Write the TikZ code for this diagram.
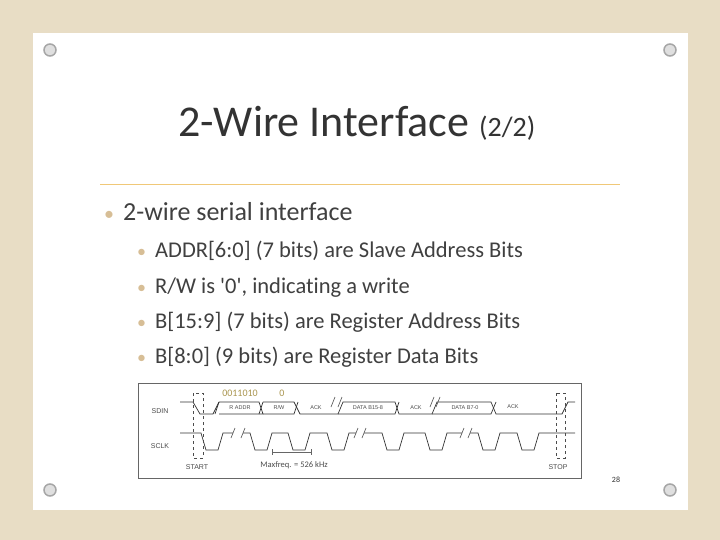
\documentclass[tikz,border=0pt]{standalone}
\usepackage{fontspec}
\setmainfont{Carlito}[Ligatures=NoCommon]
\setsansfont{Liberation Sans}
\definecolor{bgbeige}{RGB}{232,221,197}
\definecolor{rulec}{RGB}{240,200,120}
\definecolor{bitc}{RGB}{170,150,80}
\definecolor{bulc}{RGB}{215,190,150}
\begin{document}
\begin{tikzpicture}[x=1pt,y=-1pt,
  pin/.style={circle,draw=gray!70,fill=gray!25,line width=1.5pt,minimum size=12pt,inner sep=0pt},
  txt/.style={anchor=base west,text=black!75,inner sep=0pt},
  sig/.style={line width=0.7pt,black!80},
  lbl/.style={font=\sffamily\fontsize{7}{8}\selectfont,text=black!70,inner sep=0pt},
  bus/.style={font=\sffamily\fontsize{5.5}{6}\selectfont,text=black!70,inner sep=0pt}]
\fill[bgbeige] (0,0) rectangle (720,540);
\useasboundingbox (0,0) rectangle (720,540);
\fill[white] (33,33) rectangle (688,510);
\foreach \p/\q in {a/{(50,50)},b/{(670,50)},c/{(50,490)},d/{(670,490)}} \node[pin] (pin\p) at \q {};
\node[anchor=base west,text=black!80,inner sep=0] (title) at (178,137) {\fontsize{44}{48}\selectfont 2-Wire Interface \fontsize{28}{30}\selectfont(2/2)};
\draw[line width=1pt,rulec] (100,185) -- (620,185);
\newcommand\bul[1]{\textcolor{bulc}{\fontsize{#1}{#1}\selectfont•}}
\node[txt] (b0) at (104,221) {\fontsize{26}{28}\selectfont\bul{20}\hspace{9pt}2-wire serial interface};
\node[txt] (b1) at (137,258) {\fontsize{22.5}{24}\selectfont\bul{18}\hspace{9pt}ADDR[6:0] (7 bits) are Slave Address Bits};
\node[txt] (b2) at (137,293) {\fontsize{22.5}{24}\selectfont\bul{18}\hspace{9pt}R/W is \textquotesingle0\textquotesingle, indicating a write};
\node[txt] (b3) at (137,328) {\fontsize{22.5}{24}\selectfont\bul{18}\hspace{9pt}B[15:9] (7 bits) are Register Address Bits};
\node[txt] (b4) at (137,363) {\fontsize{22.5}{24}\selectfont\bul{18}\hspace{9pt}B[8:0] (9 bits) are Register Data Bits};
% timing diagram
\draw[black!60,line width=0.8pt] (138,383) rectangle (581,478);
\node[lbl] (sdin) at (160,411) {SDIN};
\node[lbl] (sclk) at (160,446) {SCLK};
\node[lbl] (start) at (197,467) {START};
\node[lbl] (stop) at (558,467) {STOP};
\node[font=\fontsize{10}{10}\selectfont,text=bitc,inner sep=0] (bits) at (240,393) {0011010};
\node[font=\fontsize{10}{10}\selectfont,text=bitc,inner sep=0] (rw) at (282,393) {0};
\node[font=\fontsize{8.5}{9}\selectfont,text=black!70,inner sep=0] (mf) at (294,465) {Maxfreq. = 526 kHz};
\draw[black!60] (272,452) -- (311,452) (272,449)--(272,455) (311,449)--(311,455);
% SDIN
\draw[sig] (180,402) -- (193,402) -- (200,414) -- (213,414) -- (219,402);
\draw[sig] (219,402) -- (259,402) -- (263,414) -- (219,414) (219,402)--(215,414);
\draw[sig] (263,402) -- (294,402) -- (300,414) -- (338,414) -- (343,402) -- (395,402) -- (399,414) -- (432,414) -- (437,402) -- (491,402) -- (496,414) -- (562,414) -- (568,402) -- (575,402);
\draw[sig] (259,414) -- (263,402) (263,414)--(294,414) -- (298,402);
\draw[sig] (338,414) -- (395,414) -- (399,402);
\draw[sig] (432,414)--(491,414)--(496,402);
\node[bus] at (240,408) {R ADDR};
\node[bus] at (279,408) {R/W};
\node[bus] at (316,408) {ACK};
\node[bus] at (368,408) {DATA B15-8};
\node[bus] at (416,408) {ACK};
\node[bus] at (465,408) {DATA B7-0};
\node[bus] at (513,407) {ACK};
% SCLK
\newcommand\pulse[1]{-- (#1,433) -- (#1+5,450) -- (#1+17,450) -- (#1+22,433)}
\draw[sig] (180,433) \pulse{201} -- (233,433);
\draw[sig] (243,433) \pulse{250} \pulse{288} \pulse{327} -- (356,433);
\draw[sig] (364,433) \pulse{382} \pulse{425} -- (462,433);
\draw[sig] (470,433) \pulse{478} \pulse{517} -- (575,433);
% breaks
\foreach \x/\y in {233/433,243/433,356/433,364/433,462/433,470/433,333/402,340/402,432/402,438/402}
  \draw[black!70,line width=0.6pt] (\x-2,\y+5) -- (\x+2,\y-5);
% dashed markers
\draw[black!70,dashed] (193,393) rectangle (203,458);
\draw[black!70,dashed] (556,393) rectangle (565,458);
\node[font=\fontsize{8}{9}\selectfont,text=black!80,inner sep=0] (pg) at (616,480) {28};
\end{tikzpicture}
\end{document}
